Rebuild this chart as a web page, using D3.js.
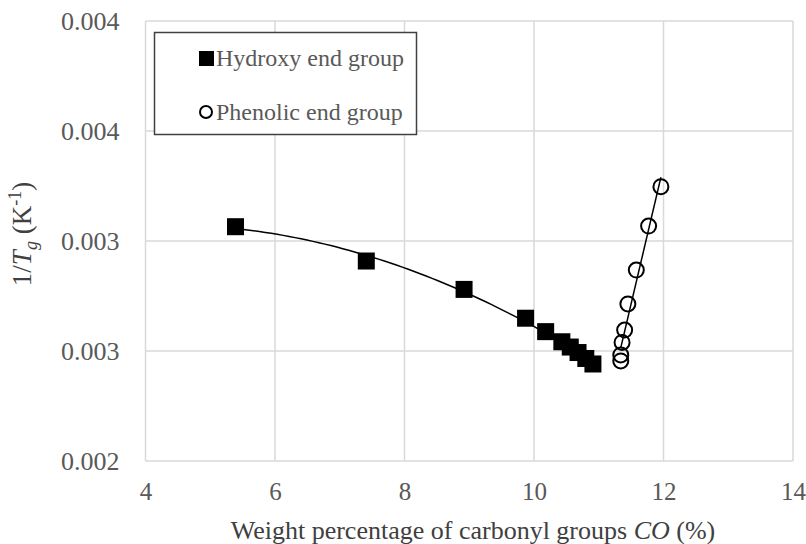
<!DOCTYPE html>
<html>
<head>
<meta charset="utf-8">
<script src="https://cdn.jsdelivr.net/npm/d3@7"></script>
<style>
  body { margin: 0; background: #fff; }
</style>
</head>
<body>
<div id="canvas"></div>
<script>
// data
const hydroxyCO = [5.39, 7.41, 8.92, 9.87, 10.18, 10.43, 10.56, 10.68, 10.80, 10.91];
const hydroxyInvTg = [0.003065, 0.002909, 0.00278, 0.002649, 0.002588, 0.002542, 0.002518, 0.002493, 0.002466, 0.002441];
const phenolicCO = [11.96, 11.77, 11.58, 11.45, 11.40, 11.36, 11.34, 11.34];
const phenolicInvTg = [0.003247, 0.003068, 0.002868, 0.002714, 0.002595, 0.002539, 0.002482, 0.002455];
const xTicks = [4, 6, 8, 10, 12, 14];
const yTicks = [0.002, 0.0025, 0.003, 0.0035, 0.004];
const yTickLabels = ["0.002", "0.003", "0.003", "0.004", "0.004"];
const seriesNames = ["Hydroxy end group", "Phenolic end group"];

const serif = "'Liberation Serif', 'Times New Roman', serif";

// define svg canvas
const width = 806, height = 544;
const plot = {left: 145.5, right: 793, top: 21, bottom: 461};

const svg = d3.select("#canvas")
  .append("svg")
  .attr("width", width)
  .attr("height", height);

// define scales
const x = d3.scaleLinear().domain([4, 14]).range([plot.left, plot.right]);
const y = d3.scaleLinear().domain([0.002, 0.004]).range([plot.bottom, plot.top]);

// grid lines
svg.append("g")
  .selectAll("line")
  .data(xTicks)
  .join("line")
  .attr("x1", d => x(d)).attr("x2", d => x(d))
  .attr("y1", plot.top).attr("y2", plot.bottom)
  .attr("stroke", "#d9d9d9").attr("stroke-width", 1.5);

svg.append("g")
  .selectAll("line")
  .data(yTicks)
  .join("line")
  .attr("x1", plot.left).attr("x2", plot.right)
  .attr("y1", d => y(d)).attr("y2", d => y(d))
  .attr("stroke", "#d9d9d9").attr("stroke-width", 1.5);

// axes (labels only)
const xAxis = svg.append("g")
  .attr("transform", "translate(0," + plot.bottom + ")")
  .call(d3.axisBottom(x).tickValues(xTicks).tickSize(0).tickPadding(21));
xAxis.select(".domain").remove();
xAxis.selectAll("text")
  .attr("fill", "#595959")
  .style("font-family", serif)
  .style("font-size", "25px");

const yAxis = svg.append("g")
  .attr("transform", "translate(" + plot.left + ",0)")
  .call(d3.axisLeft(y).tickValues(yTicks).tickFormat((d, i) => yTickLabels[i]).tickSize(0).tickPadding(26));
yAxis.select(".domain").remove();
yAxis.selectAll("text")
  .attr("fill", "#595959")
  .style("font-family", serif)
  .style("font-size", "26px");

// axis titles
const xTitle = svg.append("text")
  .attr("x", 473)
  .attr("y", 539)
  .attr("text-anchor", "middle")
  .attr("fill", "#404040")
  .style("font-family", serif)
  .style("font-size", "26px");
xTitle.append("tspan").text("Weight percentage of carbonyl groups ");
xTitle.append("tspan").attr("font-style", "italic").text("CO");
xTitle.append("tspan").text(" (%)");

const yTitle = svg.append("text")
  .attr("transform", "translate(31,234) rotate(-90)")
  .attr("text-anchor", "middle")
  .attr("fill", "#404040")
  .style("font-family", serif)
  .style("font-size", "27px");
yTitle.append("tspan").text("1/");
yTitle.append("tspan").attr("font-style", "italic").text("T");
yTitle.append("tspan").attr("font-size", 18).attr("font-style", "italic").attr("dy", 6).text("g");
yTitle.append("tspan").attr("dy", -6).text(" (K");
yTitle.append("tspan").attr("font-size", 18).attr("dy", -10).text("-1");
yTitle.append("tspan").attr("dy", 10).text(")");

// trendlines (least squares fits of the series)
function polyFit(xs, ys, order) {
  const n = order + 1;
  const A = Array.from({length: n}, () => new Array(n + 1).fill(0));
  xs.forEach((xv, k) => {
    for (let i = 0; i < n; i++) {
      for (let j = 0; j < n; j++) A[i][j] += Math.pow(xv, i + j);
      A[i][n] += ys[k] * Math.pow(xv, i);
    }
  });
  for (let i = 0; i < n; i++) {
    let p = i;
    for (let r = i + 1; r < n; r++) if (Math.abs(A[r][i]) > Math.abs(A[p][i])) p = r;
    [A[i], A[p]] = [A[p], A[i]];
    for (let r = 0; r < n; r++) {
      if (r === i) continue;
      const f = A[r][i] / A[i][i];
      for (let c = i; c <= n; c++) A[r][c] -= f * A[i][c];
    }
  }
  return A.map((row, i) => row[n] / row[i]);
}

function trendPoints(xs, ys, order) {
  const coef = polyFit(xs, ys, order);
  const [lo, hi] = d3.extent(xs);
  return d3.range(0, 61).map(i => {
    const xv = lo + (hi - lo) * i / 60;
    return [xv, coef.reduce((s, c, k) => s + c * Math.pow(xv, k), 0)];
  });
}

const line = d3.line().x(d => x(d[0])).y(d => y(d[1]));

svg.append("path")
  .datum(trendPoints(hydroxyCO, hydroxyInvTg, 2))
  .attr("fill", "none")
  .attr("stroke", "#000")
  .attr("stroke-width", 1.5)
  .attr("d", line);

svg.append("path")
  .datum(trendPoints(phenolicCO, phenolicInvTg, 1))
  .attr("fill", "none")
  .attr("stroke", "#000")
  .attr("stroke-width", 1.5)
  .attr("d", line);

// markers
const sq = 17;
svg.append("g")
  .selectAll("rect")
  .data(hydroxyCO)
  .join("rect")
  .attr("x", d => x(d) - sq / 2)
  .attr("y", (d, i) => y(hydroxyInvTg[i]) - sq / 2)
  .attr("width", sq)
  .attr("height", sq)
  .attr("fill", "#000");

svg.append("g")
  .selectAll("circle")
  .data(phenolicCO)
  .join("circle")
  .attr("cx", d => x(d))
  .attr("cy", (d, i) => y(phenolicInvTg[i]))
  .attr("r", 7.5)
  .attr("fill", "none")
  .attr("stroke", "#000")
  .attr("stroke-width", 2);

// legend
const legend = svg.append("g");
legend.append("rect")
  .attr("x", 154.5).attr("y", 32.5)
  .attr("width", 262).attr("height", 102)
  .attr("fill", "#fff")
  .attr("stroke", "#404040")
  .attr("stroke-width", 1.5);

legend.append("rect")
  .attr("x", 199).attr("y", 51)
  .attr("width", 15).attr("height", 15)
  .attr("fill", "#000");
legend.append("circle")
  .attr("cx", 206).attr("cy", 112)
  .attr("r", 6)
  .attr("fill", "none")
  .attr("stroke", "#000")
  .attr("stroke-width", 2);

legend.selectAll("text")
  .data(seriesNames)
  .join("text")
  .attr("x", 216)
  .attr("y", (d, i) => 66 + i * 54)
  .attr("fill", "#595959")
  .style("font-family", serif)
  .style("font-size", "24px")
  .text(d => d);
</script>
</body>
</html>
